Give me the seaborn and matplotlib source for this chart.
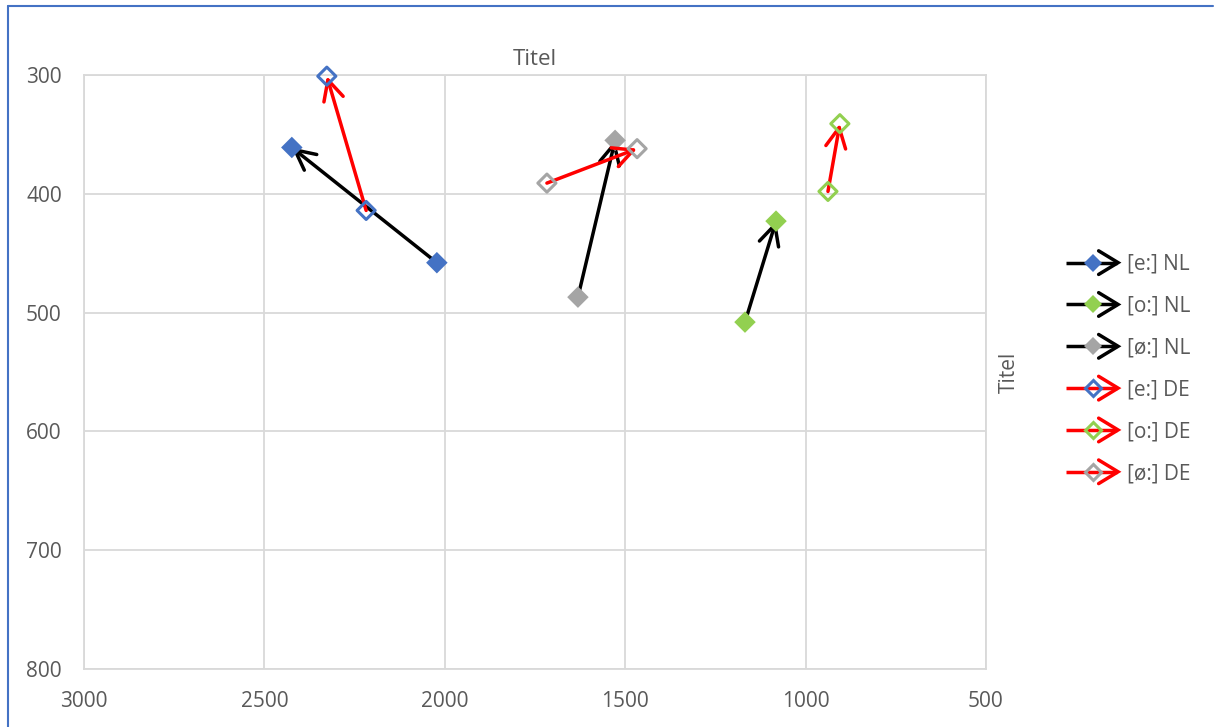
import numpy as np
import pandas as pd
import seaborn as sns
import matplotlib
matplotlib.use("Agg")
import matplotlib.pyplot as plt
from matplotlib.lines import Line2D
from matplotlib.legend_handler import HandlerBase

# ---------------- data ----------------
vowels = ["[e:]", "[o:]", "[ø:]"]
vowel_colors = ["#4472C4", "#92D050", "#A5A5A5"]

nl_f2_start = [2022, 1168, 1631]
nl_f2_end = [2424, 1082, 1528]
nl_f1_start = [458, 508, 487]
nl_f1_end = [361, 423, 355]

de_f2_start = [2218, 938, 1717]
de_f2_end = [2327, 905, 1467]
de_f1_start = [414, 398, 391]
de_f1_end = [301, 341, 362]

x_ticks = [3000, 2500, 2000, 1500, 1000, 500]
y_ticks = [300, 400, 500, 600, 700, 800]
title_text = "Titel"
ylabel_text = "Titel"

# ---------------- style ----------------
sns.set_style("white")
plt.rcParams["font.family"] = ["Open Sans", "DejaVu Sans"]
TXT = "#595959"
GRID = "#D9D9D9"
FS = 15

fig = plt.figure(figsize=(12.14, 7.27), dpi=100)
ax = fig.add_axes([84 / 1214, 1 - 669 / 727, (986 - 84) / 1214, (669 - 75) / 727])

def long_df(f2s, f2e, f1s, f1e, lang):
    rows = []
    for v, a, b, c, d in zip(vowels, f2s, f2e, f1s, f1e):
        rows.append(dict(vowel=v, lang=lang, F2=a, F1=c))
        rows.append(dict(vowel=v, lang=lang, F2=b, F1=d))
    return pd.DataFrame(rows)

df_nl = long_df(nl_f2_start, nl_f2_end, nl_f1_start, nl_f1_end, "NL")
df_de = long_df(de_f2_start, de_f2_end, de_f1_start, de_f1_end, "DE")
pal = dict(zip(vowels, vowel_colors))

LW = 2.5
astyle = "->,head_length=0.72,head_width=0.36"

def draw_arrow(a, b, c, d, color, z):
    ann = ax.annotate("", xy=(b, d), xytext=(a, c),
                      arrowprops=dict(arrowstyle=astyle, color=color, lw=LW,
                                      shrinkA=0, shrinkB=0, mutation_scale=20),
                      zorder=z, annotation_clip=False)
    ann.arrow_patch.set_clip_on(False)

# NL arrows
for a, b, c, d in zip(nl_f2_start, nl_f2_end, nl_f1_start, nl_f1_end):
    draw_arrow(a, b, c, d, "black", 3)
# NL markers (filled)
sns.scatterplot(data=df_nl, x="F2", y="F1", hue="vowel", palette=pal,
                marker="D", s=120, linewidth=0, legend=False, ax=ax, zorder=4,
                clip_on=False)

# DE arrows
for a, b, c, d in zip(de_f2_start, de_f2_end, de_f1_start, de_f1_end):
    draw_arrow(a, b, c, d, "#FF0000", 5)
# DE markers (hollow)
for v, col in zip(vowels, vowel_colors):
    sub = df_de[df_de["vowel"] == v]
    sns.scatterplot(data=sub, x="F2", y="F1", marker="D", s=85,
                    facecolors="none", edgecolors=col, linewidth=2.2,
                    legend=False, ax=ax, zorder=6, clip_on=False)

# ---------------- axes ----------------
ax.set_xlim(3000, 500)
ax.set_ylim(800, 300)
ax.set_xticks(x_ticks)
ax.set_yticks(y_ticks)
ax.set_xticklabels([str(t) for t in x_ticks])
ax.set_yticklabels([str(t) for t in y_ticks])
ax.grid(True, color=GRID, lw=1.3)
ax.set_axisbelow(True)
for s in ax.spines.values():
    s.set_visible(True)
    s.set_color(GRID)
    s.set_linewidth(1.3)
ax.tick_params(axis="both", length=0, labelsize=FS, labelcolor=TXT)
ax.tick_params(axis="x", pad=16)
ax.tick_params(axis="y", pad=16)
ax.set_xlabel("")
ax.set_title(title_text, fontsize=16, color=TXT, pad=7)
ax.yaxis.set_label_position("right")
ax.set_ylabel(ylabel_text, fontsize=FS, color=TXT, labelpad=9)

# ---------------- legend ----------------
class ArrowHandler(HandlerBase):
    def create_artists(self, legend, orig_handle, xdescent, ydescent,
                       width, height, fontsize, trans):
        y = height / 2 - ydescent
        x0 = -xdescent
        x1 = width - xdescent
        lc = orig_handle.get_color()
        line = Line2D([x0, x1 - 1], [y, y], color=lc, lw=LW, solid_capstyle="butt")
        hl, hw = 14, 8.5
        chev = Line2D([x1 - hl, x1, x1 - hl], [y + hw, y, y - hw], color=lc, lw=LW,
                      solid_joinstyle="miter")
        mk = Line2D([x0 + 0.52 * (x1 - x0)], [y], marker="D", linestyle="none",
                    markersize=orig_handle.get_markersize(),
                    markerfacecolor=orig_handle.get_markerfacecolor(),
                    markeredgecolor=orig_handle.get_markeredgecolor(),
                    markeredgewidth=orig_handle.get_markeredgewidth())
        arts = [line, chev, mk]
        for a in arts:
            a.set_transform(trans)
        return arts

handles, labels = [], []
for v, col in zip(vowels, vowel_colors):
    handles.append(Line2D([], [], color="black", marker="D", markersize=9.5,
                          markerfacecolor=col, markeredgecolor=col, markeredgewidth=0))
    labels.append(f"{v} NL")
for v, col in zip(vowels, vowel_colors):
    handles.append(Line2D([], [], color="#FF0000", marker="D", markersize=8.5,
                          markerfacecolor="none", markeredgecolor=col, markeredgewidth=2.2))
    labels.append(f"{v} DE")

leg = fig.legend(handles, labels, handler_map={Line2D: ArrowHandler()},
                 loc="center left", bbox_to_anchor=(1066 / 1214, 1 - 369 / 727),
                 bbox_transform=fig.transFigure, frameon=False, fontsize=FS,
                 handlelength=2.5, handletextpad=0.45, labelspacing=1.0,
                 borderpad=0, borderaxespad=0)
for t in leg.get_texts():
    t.set_color(TXT)

# chart-area selection border (left and top edges)
fig.add_artist(Line2D([8 / 1214, 8 / 1214], [0, 1 - 6 / 727], color="#4472C4",
                      lw=1.5, transform=fig.transFigure))
fig.add_artist(Line2D([8 / 1214, 1213 / 1214], [1 - 6 / 727, 1 - 6 / 727],
                      color="#4472C4", lw=1.5, transform=fig.transFigure))

fig.savefig("out.png", dpi=100)
